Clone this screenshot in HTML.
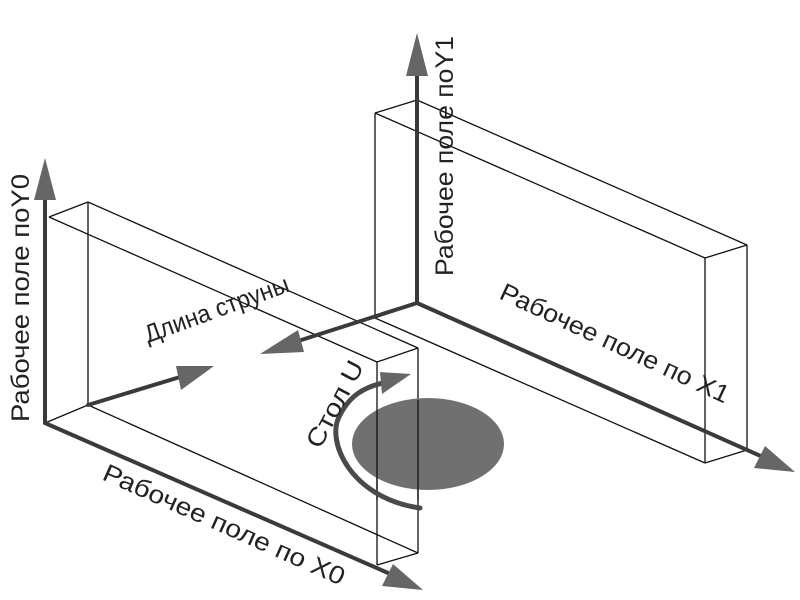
<!DOCTYPE html>
<html><head><meta charset="utf-8"><style>
html,body{margin:0;padding:0;background:#fff;}
svg{display:block;}
text{font-family:"Liberation Sans",sans-serif;font-size:25px;fill:#222;}
</style></head><body>
<svg width="800" height="600" viewBox="0 0 800 600">
<g stroke="#111" stroke-width="1.3" fill="none">
<line x1="375" y1="113" x2="417" y2="100"/>
<line x1="417" y1="100" x2="747" y2="245"/>
<line x1="375" y1="113" x2="705" y2="258"/>
<line x1="705" y1="258" x2="747" y2="245"/>
<line x1="705" y1="258" x2="705" y2="463"/>
<line x1="747" y1="245" x2="747" y2="450"/>
<line x1="705" y1="463" x2="747" y2="450"/>
<line x1="375" y1="113" x2="375" y2="318"/>
<line x1="375" y1="318" x2="705" y2="463"/>
<line x1="375" y1="318" x2="417" y2="303"/>
<line x1="49" y1="217" x2="88" y2="202"/>
<line x1="88" y1="202" x2="418" y2="348"/>
<line x1="49" y1="217" x2="377" y2="362"/>
<line x1="377" y1="362" x2="418" y2="348"/>
<line x1="377" y1="362" x2="377" y2="565"/>
<line x1="418" y1="348" x2="418" y2="553"/>
<line x1="377" y1="565" x2="418" y2="553"/>
<line x1="88" y1="202" x2="88" y2="405"/>
<line x1="88" y1="405" x2="418" y2="553"/>
<line x1="45" y1="423" x2="88" y2="405"/>
</g>
<ellipse cx="428" cy="444" rx="76" ry="46" fill="#707070"/>
<g stroke="#111" stroke-width="1.3"><line x1="377" y1="410" x2="377" y2="500"/><line x1="418" y1="400" x2="418" y2="500"/></g>
<g stroke="#3a3a3a" stroke-width="4" fill="none" stroke-linecap="round">
<line x1="45" y1="423" x2="45" y2="195"/>
<line x1="45" y1="423" x2="395" y2="576"/>
<line x1="417" y1="303" x2="417" y2="75"/>
<line x1="417" y1="303" x2="765" y2="458"/>
<line x1="417" y1="303" x2="295" y2="342"/>
<line x1="88" y1="405" x2="180" y2="377"/>
<path d="M420,508 C350,498 325,440 340,415 C350,395 365,387 383,383" stroke="#4a4a4a" stroke-width="5"/>
</g>
<g fill="#666">
<polygon points="45,158 34,200 56,200"/>
<polygon points="417,33 406,76 428,76"/>
<polygon points="423,590 382,586 393,564"/>
<polygon points="795,472 754,468 765,446"/>
<polygon points="260,354 298,330 304,352"/>
<polygon points="214,366 176,366 181,390"/>
<polygon points="411,374 380,372 382,394"/>
</g>
<text transform="translate(29,422) rotate(-90)" textLength="248" lengthAdjust="spacingAndGlyphs">Рабочее поле поY0</text>
<text transform="translate(453,276) rotate(-90)" textLength="240" lengthAdjust="spacingAndGlyphs">Рабочее поле поY1</text>
<text transform="translate(148,343) rotate(-20)" textLength="152" lengthAdjust="spacingAndGlyphs">Длина струны</text>
<text transform="translate(320,450) rotate(-62)" textLength="95" lengthAdjust="spacingAndGlyphs">Стол U</text>
<text transform="translate(101,479) rotate(24)" textLength="262" lengthAdjust="spacingAndGlyphs">Рабочее поле по X0</text>
<text transform="translate(498,298) rotate(25)" textLength="250" lengthAdjust="spacingAndGlyphs">Рабочее поле по X1</text>
</svg>
</body></html>
